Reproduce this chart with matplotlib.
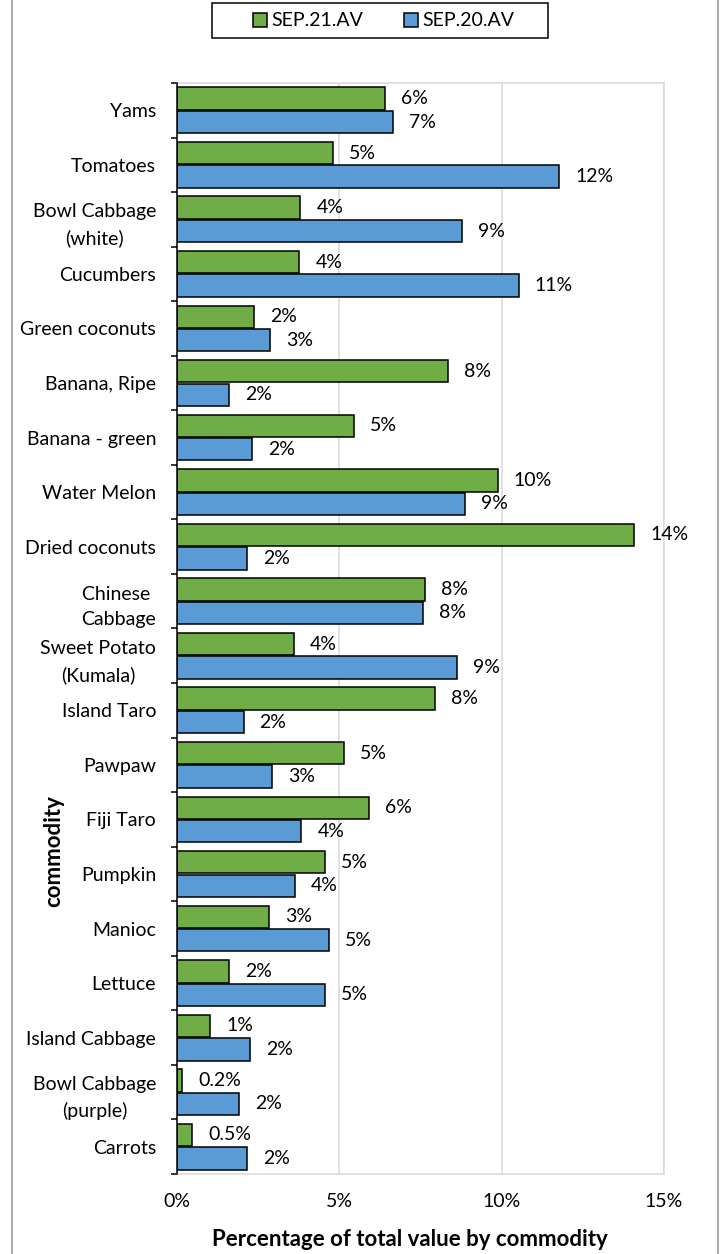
import matplotlib
matplotlib.use("Agg")
import matplotlib.pyplot as plt
from matplotlib.patches import Rectangle, Patch
from matplotlib.lines import Line2D
from matplotlib.ticker import FuncFormatter
import numpy as np

plt.rcParams['font.family'] = ['Lato', 'DejaVu Sans']

categories = ["Yams", "Tomatoes", "Bowl Cabbage\n(white)", "Cucumbers", "Green coconuts",
              "Banana, Ripe", "Banana - green", "Water Melon", "Dried coconuts",
              "Chinese \nCabbage", "Sweet Potato\n(Kumala)", "Island Taro", "Pawpaw",
              "Fiji Taro", "Pumpkin", "Manioc", "Lettuce", "Island Cabbage",
              "Bowl Cabbage\n(purple)", "Carrots"]
sep21 = [6.41, 4.80, 3.80, 3.77, 2.38, 8.35, 5.44, 9.88, 14.08, 7.65,
         3.61, 7.94, 5.14, 5.91, 4.57, 2.84, 1.60, 1.03, 0.16, 0.46]
sep20 = [6.66, 11.77, 8.78, 10.53, 2.87, 1.60, 2.30, 8.88, 2.17, 7.59,
         8.61, 2.05, 2.94, 3.83, 3.62, 4.69, 4.55, 2.25, 1.92, 2.16]
series_names = ["SEP.21.AV", "SEP.20.AV"]
xticks = [0, 5, 10, 15]

GREEN = "#70AD47"
BLUE = "#5B9BD5"
GRID = "#D9D9D9"
FS = 14
FSB = 16

W, H = 724, 1254
fig = plt.figure(figsize=(W / 100, H / 100), dpi=100)
ax = fig.add_axes([177 / W, 1 - 1174 / H, (664 - 177) / W, (1174 - 83) / H])

y = np.arange(len(categories))
bh = 0.41
off = 0.215
ax.barh(y - off, sep21, height=bh, color=GREEN, edgecolor="black", linewidth=1.1, zorder=3)
ax.barh(y + off, sep20, height=bh, color=BLUE, edgecolor="black", linewidth=1.1, zorder=3)

def fmt(v):
    return f"{v:.1f}%" if v < 1 else f"{round(v):d}%"

for yi, v in zip(y, sep21):
    ax.annotate(fmt(v), (v, yi - off), xytext=(11.5, 0), textcoords="offset points",
                va="center", ha="left", fontsize=FS, color="#000000")
for yi, v in zip(y, sep20):
    ax.annotate(fmt(v), (v, yi + off), xytext=(11.5, 0), textcoords="offset points",
                va="center", ha="left", fontsize=FS, color="#000000")

ax.set_xlim(0, 15)
ax.set_ylim(len(categories) - 0.5, -0.5)
ax.set_xticks(xticks)
ax.xaxis.set_major_formatter(FuncFormatter(lambda v, p: f"{v:.0f}%"))
ax.tick_params(axis="x", length=0, pad=14, labelsize=FS)
ax.set_yticks(y)
ax.set_yticklabels(categories, fontsize=FS)
for lab in ax.get_yticklabels():
    lab.set_multialignment("center")
    lab.set_linespacing(1.6)
ax.tick_params(axis="y", which="major", length=0, pad=15)
ax.set_yticks(np.arange(-0.5, len(categories), 1.0), minor=True)
ax.tick_params(axis="y", which="minor", length=4.5, width=1.1, color="black", direction="out")

ax.grid(axis="x", color=GRID, linewidth=1.1, zorder=0)
ax.set_axisbelow(True)
for s in ["top", "right", "bottom"]:
    ax.spines[s].set_color(GRID)
    ax.spines[s].set_linewidth(1.1)
ax.spines["left"].set_color("black")
ax.spines["left"].set_linewidth(1.1)
ax.spines["left"].set_zorder(5)

fig.text(410 / W, 1 - 1239 / H, "Percentage of total value by commodity",
         ha="center", va="center", fontsize=FSB, fontweight="bold")
fig.text(54 / W, 1 - 851 / H, "commodity", rotation=90,
         ha="center", va="center", fontsize=FSB, fontweight="bold")

# legend
handles = [Patch(facecolor=GREEN, edgecolor="black", linewidth=1.1),
           Patch(facecolor=BLUE, edgecolor="black", linewidth=1.1)]
fig.legend(handles, series_names, loc="center", bbox_to_anchor=(384 / W, 1 - 21 / H),
           ncol=2, frameon=False, fontsize=FS, handlelength=0.7, handleheight=0.7,
           handletextpad=0.25, columnspacing=2.1, borderpad=0.0)
fig.add_artist(Rectangle((211.7 / W, 1 - 38.3 / H), (548.3 - 211.7) / W, 35 / H,
                         transform=fig.transFigure, facecolor="none",
                         edgecolor="black", linewidth=1.1))

# outer chart border
for xb in [12, 718]:
    fig.add_artist(Line2D([xb / W, xb / W], [0, 1], transform=fig.transFigure,
                          color="#ABABAB", linewidth=1.5))

fig.savefig("out.png", dpi=100)
